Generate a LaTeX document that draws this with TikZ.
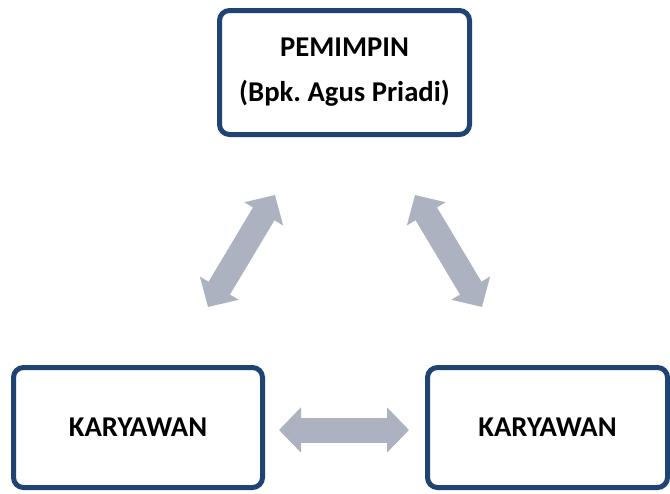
\documentclass[tikz,border=0pt]{standalone}
\usepackage{fontspec}
\setmainfont{Carlito}
\usetikzlibrary{arrows.meta}
\definecolor{boxline}{RGB}{31,67,114}
\definecolor{linkfill}{RGB}{172,178,192}

\begin{document}
\begin{tikzpicture}[x=0.75pt,y=0.75pt,yscale=-1,xscale=1,
  box/.style={draw=boxline, line width=3.75pt, rounded corners=7.5pt, fill=white, align=center, inner sep=0pt, font=\fontsize{21.5}{26}\selectfont\bfseries},
  link/.style={draw=linkfill, line width=18.75pt, {Triangle[length=16.5pt,width=33pt,fill=linkfill]}-{Triangle[length=16.5pt,width=33pt,fill=linkfill]}}]
\useasboundingbox (0,0) rectangle (670,493);

%Shape: Rounded Rect
\node [box, minimum width=187.5pt, minimum height=93pt] (lead) at (344.5,72.5) {PEMIMPIN\\[7.75pt](Bpk.\ Agus Priadi)};
%Shape: Rounded Rect
\node [box, minimum width=186.75pt, minimum height=90pt] (staffa) at (138,427.5) {KARYAWAN};
%Shape: Rounded Rect
\node [box, minimum width=180pt, minimum height=90pt] (staffb) at (547.5,427.5) {KARYAWAN};

%Straight Lines
\coordinate (la) at (275,195);
\coordinate (lb) at (208,307);
\draw [link] (la) -- (lb);
%Straight Lines
\coordinate (ra) at (415,195);
\coordinate (rb) at (482,307);
\draw [link] (ra) -- (rb);
%Straight Lines
\coordinate (ha) at (279,430);
\coordinate (hb) at (409,430);
\draw [link] (ha) -- (hb);

\end{tikzpicture}
\end{document}
